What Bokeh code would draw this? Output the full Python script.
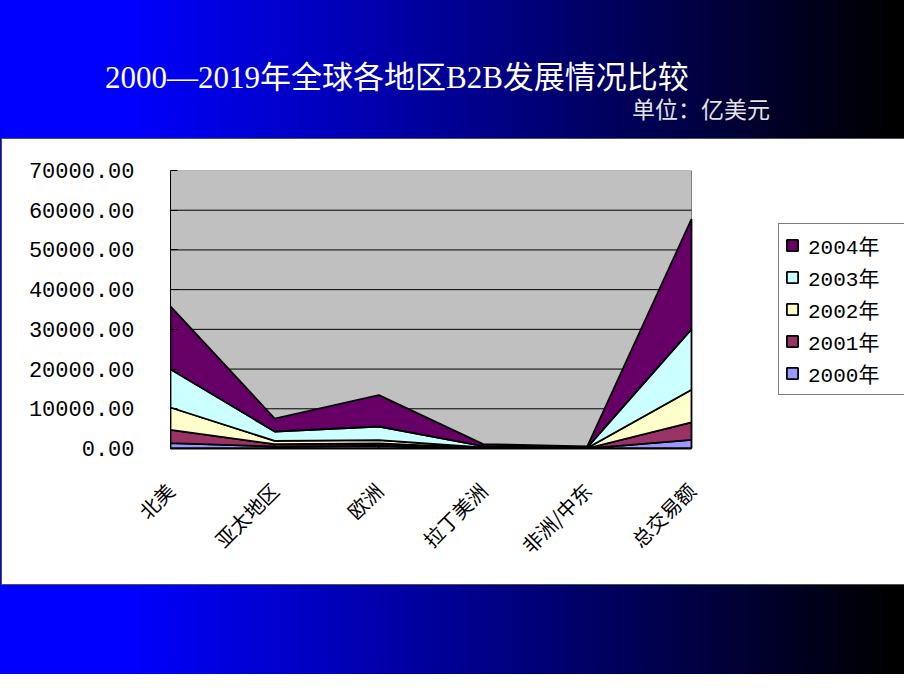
import numpy as np
from math import pi
from bokeh.plotting import figure
from bokeh.layouts import column
from bokeh.models import (Range1d, FixedTicker, NumeralTickFormatter, Legend, LegendItem, Div)
from bokeh.embed import file_html
from bokeh.resources import INLINE

# ---- data (亿美元) ----
regions = ["北美", "亚太地区", "欧洲", "拉丁美洲", "非洲/中东", "总交易额"]
years = ["2000年", "2001年", "2002年", "2003年", "2004年"]
v2000 = [1340, 500, 670, 40, 20, 2190]
v2001 = [3360, 580, 590, 80, 40, 4360]
v2002 = [5620, 860, 840, 160, 80, 8230]
v2003 = [9650, 2340, 3440, 320, 150, 15260]
v2004 = [15790, 3270, 7890, 500, 250, 27700]
y_ticks = [0, 10000, 20000, 30000, 40000, 50000, 60000, 70000]
title_text = "2000—2019年全球各地区B2B发展情况比较"
unit_text = "单位：亿美元"

series = [v2000, v2001, v2002, v2003, v2004]
colors = ["#9999FF", "#993366", "#FFFFCC", "#CCFFFF", "#660066"]

MONO = "Liberation Mono, Noto Sans CJK SC"
CJK = "Noto Sans CJK SC"

W, H = 904, 674
TOP_H = 139
LEFT = 170          # left border of the chart (px)
PLOT_W = 521        # width of the grey plot area (px)
FRAME_W = W - LEFT  # frame reaches the right edge; legend sits inside it

# ---- header (title + unit) ----
header_html = (
    f'<div style="position:relative;width:{W}px;height:{TOP_H}px;">'
    f'<div style="position:absolute;left:105px;top:62px;white-space:nowrap;'
    f"font-family:'Liberation Serif','Noto Sans CJK SC';font-size:31px;line-height:1;color:#FFFFFF;\">"
    f'{title_text}</div>'
    f'<div style="position:absolute;left:632px;top:97px;white-space:nowrap;'
    f"font-family:'Noto Sans CJK SC';font-size:23px;line-height:1;color:#E4E4E4;\">"
    f'{unit_text}</div>'
    f'</div>'
)
header = Div(text=header_html, width=W, height=TOP_H, margin=(0, 0, 0, 0))

# ---- chart ----
n = len(regions) - 1
y_max = y_ticks[-1]
p = figure(x_range=Range1d(0, n * FRAME_W / PLOT_W), y_range=Range1d(0, y_max),
           width=W, height=H - TOP_H,
           min_border_left=LEFT, min_border_right=0,
           min_border_top=31, min_border_bottom=226,
           output_backend="svg", toolbar_location=None, margin=(0, 0, 0, 0))
p.border_fill_color = None
p.background_fill_color = None
p.outline_line_color = None

# grey plot area, grid lines
p.quad(left=0, right=n, bottom=0, top=y_max, fill_color="#C0C0C0",
       line_color="#808080", line_width=1)
p.segment(x0=0, x1=n, y0=y_ticks[1:-1], y1=y_ticks[1:-1], line_color="black", line_width=1)

idx = list(range(len(regions)))
cum = np.cumsum(np.array(series, dtype=float), axis=0)
renderers = []
for i in range(len(series)):
    top = list(cum[i])
    bottom = list(cum[i - 1]) if i > 0 else [0.0] * len(regions)
    xs = idx + idx[::-1]
    ys = top + bottom[::-1]
    r = p.patch(xs, ys, fill_color=colors[i], line_color="black", line_width=1.8)
    renderers.append(r)

p.xaxis.bounds = (0, n)
p.xaxis.ticker = FixedTicker(ticks=idx)
p.xaxis.major_label_overrides = {i: name for i, name in enumerate(regions)}
p.xaxis.major_label_orientation = pi / 4
p.xaxis.major_label_text_font = CJK
p.xaxis.major_label_text_font_size = "20px"
p.xaxis.major_label_text_color = "black"
p.xaxis.major_label_standoff = 38
p.xaxis.axis_line_color = "black"
p.xaxis.axis_line_width = 2
p.xaxis.major_tick_in = 4
p.xaxis.major_tick_out = 0
p.xaxis.minor_tick_line_color = None

p.yaxis.ticker = FixedTicker(ticks=y_ticks)
p.yaxis.formatter = NumeralTickFormatter(format="0.00")
p.yaxis.major_label_text_font = MONO
p.yaxis.major_label_text_font_size = "22px"
p.yaxis.major_label_text_color = "black"
p.yaxis.major_label_standoff = 36
p.yaxis.axis_line_color = "black"
p.yaxis.major_tick_in = 7
p.yaxis.major_tick_out = 0
p.yaxis.major_tick_line_color = "black"
p.yaxis.minor_tick_line_color = None

p.xgrid.grid_line_color = None
p.ygrid.grid_line_color = None

items = [LegendItem(label=years[i], renderers=[renderers[i]]) for i in reversed(range(len(years)))]
legend = Legend(items=items, location=(PLOT_W + 87, 53))
legend.label_text_font = MONO
legend.label_text_font_size = "21px"
legend.label_text_color = "black"
legend.glyph_width = 14
legend.glyph_height = 14
legend.label_standoff = 9
legend.label_height = 20
legend.label_width = 90
legend.spacing = 2
legend.padding = 6
legend.margin = 0
legend.border_line_color = "black"
legend.border_line_width = 1
legend.background_fill_color = "white"
legend.background_fill_alpha = 1
p.add_layout(legend, "center")

bg = ("linear-gradient(#FFFFFF,#FFFFFF) 2px 139px / 910px 445px no-repeat, "
      "linear-gradient(#505050,#505050) 1px 138px / 912px 447px no-repeat, "
      "linear-gradient(to right, #0000FF 0%, #0000FF 14%, #000000 99%)")

page = column(header, p, width=W, height=H, spacing=0,
              styles={"background": bg})

open("out.html", "w").write(file_html(page, INLINE))
